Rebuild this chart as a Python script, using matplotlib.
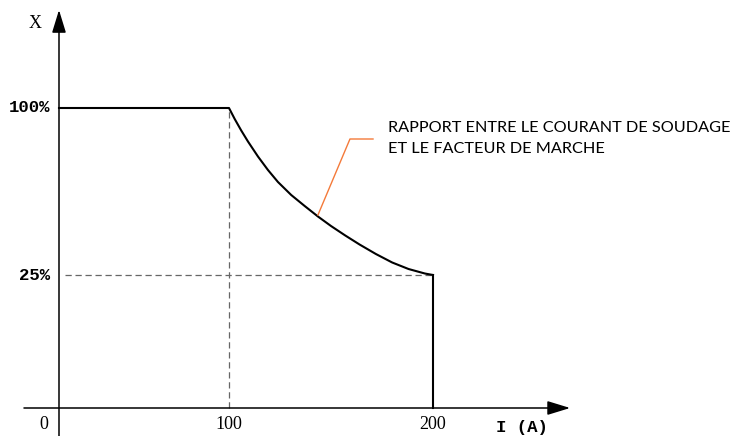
import matplotlib.pyplot as plt

# current in A (x positions) and curve height above the I axis (drawing units)
curve_I = [0, 100, 102.8, 106.0, 109.3, 114.2, 119.1, 124.0, 130.5, 137.1,
           143.6, 150, 157, 164, 172, 180, 188, 196, 200]
curve_h = [300, 300, 289, 277.5, 266.5, 251.5, 238, 226, 213, 202,
           191.5, 182, 172.5, 163.5, 154, 145.5, 139, 134.5, 133]

ytick_pos = [300, 133]
ytick_labels = ["100%", "25%"]
xtick_pos = [100, 200]
xtick_labels = ["100", "200"]

note = "RAPPORT ENTRE LE COURANT DE SOUDAGE\nET LE FACTEUR DE MARCHE"

fig = plt.figure(figsize=(7.33, 4.36), dpi=100)
ax = fig.add_axes([0, 0, 1, 1])
ax.set_xlim(-12.25, 347.06)
ax.set_ylim(-28, 408)
ax.axis("off")

x_axis_at = 16.67  # where the X axis line sits

# axes with arrows
ax.annotate("", xy=(267.2, 0), xytext=(-0.5, 0),
            arrowprops=dict(arrowstyle="-|>,head_length=14,head_width=4.3",
                            mutation_scale=1, color="black", lw=1.1,
                            shrinkA=0, shrinkB=0))
ax.annotate("", xy=(x_axis_at, 398), xytext=(x_axis_at, -28),
            arrowprops=dict(arrowstyle="-|>,head_length=14,head_width=4.3",
                            mutation_scale=1, color="black", lw=1.1,
                            shrinkA=0, shrinkB=0))

# guide lines
ax.plot([100, 100], [0, 300], color="#666666", lw=0.9, ls=(0, (5, 3)))
ax.plot([x_axis_at + 3, 200], [133, 133], color="#666666", lw=0.9, ls=(0, (5, 3)))

# curve
ax.plot([x_axis_at] + curve_I[1:], curve_h, color="black", lw=1.5,
        solid_joinstyle="round")
ax.plot([200, 200], [133, 0], color="black", lw=1.5)

# tick labels
for p, lab in zip(ytick_pos, ytick_labels):
    ax.text(12.2, p, lab, ha="right", va="center", family="Liberation Mono",
            weight="bold", fontsize=12.5)
for p, lab in zip(xtick_pos, xtick_labels):
    ax.text(p, -16, lab, ha="center", va="center", family="Liberation Serif",
            fontsize=13)
ax.text(9.4, -16, "0", ha="center", va="center", family="Liberation Serif", fontsize=13)
ax.text(4.9, 384, "X", ha="center", va="center", family="Liberation Serif", fontsize=13)
ax.text(243.5, -19, "I (A)", ha="center", va="center", family="Liberation Mono",
        weight="bold", fontsize=12.5)

# annotation
ax.plot([143.6, 159.3, 170.6], [193, 269, 269], color="#f47a3a", lw=1.0)
ax.text(177.9, 287, note, ha="left", va="top", family="Lato", fontsize=11.7,
        linespacing=1.6)

fig.savefig("out.png", dpi=100)
